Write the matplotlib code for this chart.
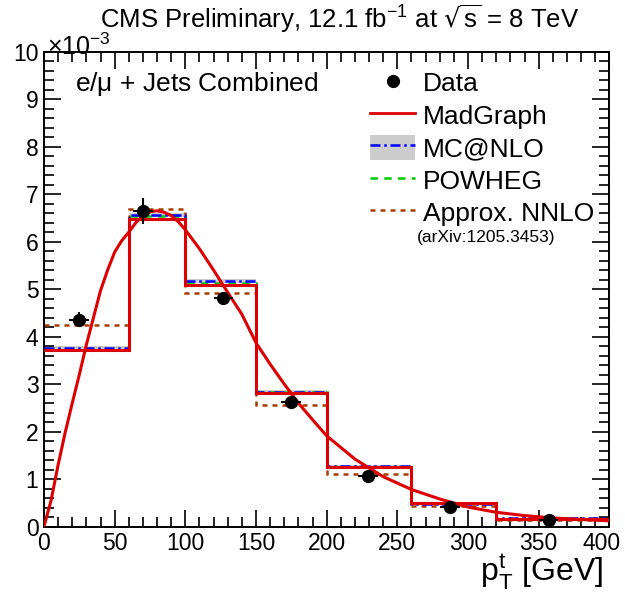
import numpy as np
import matplotlib
matplotlib.use("Agg")
import matplotlib.pyplot as plt
from matplotlib.lines import Line2D
from matplotlib.patches import Patch
from matplotlib.ticker import MultipleLocator
from matplotlib.transforms import ScaledTranslation

plt.rcParams["font.family"] = ["Liberation Sans", "DejaVu Sans"]
plt.rcParams["mathtext.default"] = "regular"

# bin edges in GeV, values in units of 1e-3
edges = [0, 60, 100, 150, 200, 260, 320, 400]
madgraph = [3.72, 6.48, 5.09, 2.81, 1.25, 0.49, 0.16]
mcatnlo = [3.75, 6.56, 5.17, 2.83, 1.27, 0.47, 0.17]
mcatnlo_unc = [0.05, 0.05, 0.05, 0.04, 0.03, 0.02, 0.01]
powheg = [3.71, 6.53, 5.12, 2.83, 1.26, 0.50, 0.16]
nnlo = [4.25, 6.69, 4.92, 2.56, 1.10, 0.43, 0.14]

# data points
data_x = [25, 70, 127, 175, 229, 287, 357]
data_y = [4.36, 6.64, 4.81, 2.63, 1.07, 0.41, 0.14]
data_yerr = [0.15, 0.27, 0.14, 0.10, 0.06, 0.04, 0.03]
data_xerr = 7

# smooth MadGraph curve
curve_x = [0, 5, 10, 15, 20, 25, 30, 35, 40, 45, 50, 55, 60, 65, 70, 75, 80,
           85, 90, 95, 100, 110, 120, 130, 140, 150, 160, 170, 180, 190, 200,
           220, 240, 260, 280, 300, 320, 340, 360, 380, 400]
curve_y = [0.0, 0.55, 1.3, 1.98, 2.6, 3.2, 3.83, 4.4, 4.97, 5.4, 5.78, 6.02,
           6.2, 6.4, 6.55, 6.63, 6.65, 6.62, 6.55, 6.42, 6.25, 5.85, 5.4,
           4.93, 4.47, 3.87, 3.42, 3.0, 2.6, 2.25, 1.91, 1.42, 1.05, 0.78,
           0.58, 0.41, 0.30, 0.23, 0.18, 0.15, 0.12]

red = "#dd0000"
blue = "#0000ff"
green = "#00cc00"
brown = "#a83c00"
grey = "#cccccc"

fig = plt.figure(figsize=(6.25, 5.94), dpi=100)
ax = fig.add_axes([0.0704, 0.1136, 0.9045, 0.7993])

lo = np.array(mcatnlo) - np.array(mcatnlo_unc)
hi = np.array(mcatnlo) + np.array(mcatnlo_unc)
ax.stairs(hi, edges, baseline=lo, fill=True, color=grey, zorder=1)
ax.stairs(nnlo, edges, baseline=None, color=brown, lw=1.8, ls=(0, (2, 2)), zorder=2)
ax.stairs(powheg, edges, baseline=None, color=green, lw=1.8, ls=(0, (3, 2.5)), zorder=3)
ax.stairs(mcatnlo, edges, baseline=None, color=blue, lw=1.8, ls=(0, (4, 1.5, 1, 1.5)), zorder=3)
ax.stairs(madgraph, edges, baseline=None, color=red, lw=2.2, zorder=4)
ax.plot(curve_x, curve_y, color=red, lw=2.2, zorder=5)
ax.errorbar(data_x, data_y, yerr=data_yerr, xerr=data_xerr, fmt="o",
            color="black", ms=8.5, elinewidth=1.5, capsize=0, zorder=6)

ax.set_xlim(0, 400)
ax.set_ylim(0, 10)
ax.xaxis.set_major_locator(MultipleLocator(50))
ax.xaxis.set_minor_locator(MultipleLocator(10))
ax.yaxis.set_major_locator(MultipleLocator(1))
ax.yaxis.set_minor_locator(MultipleLocator(0.2))
ax.tick_params(which="both", direction="in", top=True, right=True,
               labelsize=16.5, width=1.2)
ax.tick_params(which="major", length=12, pad=4)
ax.tick_params(which="minor", length=7)
for s in ax.spines.values():
    s.set_linewidth(1.4)

ax.text(0.989, -0.097, r"$p_{T}^{t}$ [GeV]", transform=ax.transAxes,
        fontsize=23, ha="right", va="center")
ax.text(0.005, 0.994, r"$\times$10$^{-3}$", transform=ax.transAxes,
        fontsize=18, ha="left", va="baseline")
fig.text(0.544, 0.968, r"CMS Preliminary, 12.1 fb$^{-1}$ at $\sqrt{s}$ = 8 TeV",
         fontsize=18.5, ha="center", va="center")
ax.text(0.055, 0.933, r"e/$\mu$ + Jets Combined", transform=ax.transAxes,
        fontsize=19, ha="left", va="center")

handles = [
    Line2D([], [], marker="o", color="black", ls="none", ms=8.5),
    Line2D([], [], color=red, lw=2),
    (Patch(facecolor=grey, edgecolor="none"),
     Line2D([], [], color=blue, lw=1.8, ls=(0, (4, 1.5, 1, 1.5)))),
    Line2D([], [], color=green, lw=1.8, ls=(0, (3, 2.5))),
    Line2D([], [], color=brown, lw=1.8, ls=(0, (2, 2))),
]
labels = ["Data", "MadGraph", "MC@NLO", "POWHEG", "Approx. NNLO"]
ax.legend(handles, labels, loc="upper left", bbox_to_anchor=(0.577, 0.962),
          frameon=False, fontsize=19, handlelength=1.7, handleheight=1.1,
          handletextpad=0.3, labelspacing=0.22, borderpad=0, borderaxespad=0)
ax.text(0.66, 0.608, "(arXiv:1205.3453)", transform=ax.transAxes,
        fontsize=12.5, ha="left", va="center")

# nudge the last x tick label so "400" stays inside the picture
fig.canvas.draw()
last = [t for t in ax.xaxis.get_major_ticks() if abs(t.get_loc() - 400) < 1e-6][0]
last.label1.set_transform(last.label1.get_transform()
                          + ScaledTranslation(-0.08, 0, fig.dpi_scale_trans))

fig.savefig("out.png", dpi=100)
